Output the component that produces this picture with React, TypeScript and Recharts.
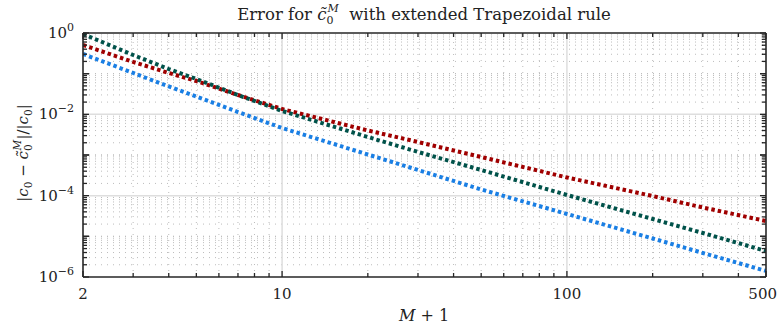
import React from 'react';
import { LineChart, Line, XAxis, YAxis, ReferenceLine } from 'recharts';

// M + 1 sample points
const mPlusOne = [2, 3, 4, 5, 7, 10, 20, 30, 50, 100, 200, 300, 500];

// relative error |c0 - c0~M| / |c0|
const errRed = [0.507, 0.194, 0.104, 0.066, 0.0299, 0.0135, 0.00401, 0.00209, 8.93e-4, 2.8e-4, 9.8e-5, 5.12e-5, 2.38e-5];
const errGreen = [0.945, 0.288, 0.13, 0.074, 0.0299, 0.0121, 0.00277, 0.00119, 4.28e-4, 1.04e-4, 2.67e-5, 1.21e-5, 4.36e-6];
const errBlue = [0.305, 0.104, 0.0484, 0.0275, 0.0114, 0.00461, 0.00103, 4.28e-4, 1.42e-4, 3.55e-5, 8.86e-6, 3.9e-6, 1.41e-6];

const xMajor = [2, 10, 100, 500];
const xMinor = [3, 4, 5, 6, 7, 8, 9, 20, 30, 40, 50, 60, 70, 80, 90, 200, 300, 400];
const yMajor = [1e-6, 1e-4, 1e-2, 1];
const yDecades = [1e-6, 1e-5, 1e-4, 1e-3, 1e-2, 1e-1];

const yMinor: number[] = [];
yDecades.forEach((d) => {
  for (let k = 1; k <= 9; k++) {
    const v = d * k;
    if (!yMajor.some((m) => Math.abs(m - v) / m < 1e-9)) yMinor.push(v);
  }
});

const data = mPlusOne.map((m, i) => ({ m, red: errRed[i], green: errGreen[i], blue: errBlue[i] }));

const AXIS = '#262626';
const FONT = "'DejaVu Serif', serif";
const isMajorY = (v: number) => yMajor.some((m) => Math.abs(m - v) / m < 1e-9);
const isMajorX = (v: number) => xMajor.includes(v);
const expOf = (v: number) => {
  const e = Math.round(Math.log10(v));
  return e < 0 ? '\u2212' + Math.abs(e) : String(e);
};

const BottomTick = (props: any) => {
  const { x, y, payload } = props;
  const major = isMajorX(payload.value);
  const last = payload.value === xMajor[xMajor.length - 1];
  return (
    <g>
      <line x1={x} y1={y} x2={x} y2={y - (major ? 6 : 4)} stroke={AXIS} strokeWidth={1.3} />
      {major && (
        <text x={last ? x + 11 : x} y={y + 22} textAnchor={last ? 'end' : 'middle'} style={{ fontFamily: FONT, fontSize: 15 }} fill="#222">
          {payload.value}
        </text>
      )}
    </g>
  );
};

const TopTick = (props: any) => {
  const { x, y, payload } = props;
  const major = isMajorX(payload.value);
  return <line x1={x} y1={y} x2={x} y2={y + (major ? 6 : 4)} stroke={AXIS} strokeWidth={1.3} />;
};

const LeftTick = (props: any) => {
  const { x, y, payload } = props;
  const v = payload.value;
  const major = isMajorY(v);
  const decade = Math.abs(Math.log10(v) - Math.round(Math.log10(v))) < 1e-9;
  return (
    <g>
      <line x1={x} y1={y} x2={x + (decade ? 6 : 4)} y2={y} stroke={AXIS} strokeWidth={1.3} />
      {major && (
        <text x={x - 9} y={y + 5} textAnchor="end" style={{ fontFamily: FONT, fontSize: 15 }} fill="#222">
          10
          <tspan dy={-7} style={{ fontSize: 11 }}>{expOf(v)}</tspan>
        </text>
      )}
    </g>
  );
};

const RightTick = (props: any) => {
  const { x, y, payload } = props;
  const v = payload.value;
  const decade = Math.abs(Math.log10(v) - Math.round(Math.log10(v))) < 1e-9;
  return <line x1={x} y1={y} x2={x - (decade ? 6 : 4)} y2={y} stroke={AXIS} strokeWidth={1.3} />;
};

const allXTicks = [...xMajor, ...xMinor].sort((a, b) => a - b);
const allYTicks = [...yMajor, ...yMinor, 1e-5, 1e-3, 1e-1].sort((a, b) => a - b);

export default function App() {
  return (
    <div style={{ position: 'absolute', left: 0, top: 0, width: 777, height: 327, background: '#fff' }}>
      <LineChart width={777} height={327} data={data} margin={{ top: 0, right: 0, bottom: 0, left: 0 }}>
        <XAxis
          xAxisId="b"
          dataKey="m"
          type="number"
          scale="log"
          domain={[2, 500]}
          allowDataOverflow
          ticks={allXTicks}
          interval={0}
          tickLine={false}
          tickSize={0}
          tickMargin={0}
          height={50}
          axisLine={{ stroke: AXIS, strokeWidth: 1.6 }}
          tick={<BottomTick />}
        />
        <XAxis
          xAxisId="t"
          orientation="top"
          dataKey="m"
          type="number"
          scale="log"
          domain={[2, 500]}
          allowDataOverflow
          ticks={allXTicks}
          interval={0}
          tickLine={false}
          tickSize={0}
          tickMargin={0}
          height={33}
          axisLine={{ stroke: AXIS, strokeWidth: 1.6 }}
          tick={<TopTick />}
        />
        <YAxis
          yAxisId="l"
          type="number"
          scale="log"
          domain={[1e-6, 1]}
          allowDataOverflow
          ticks={allYTicks}
          interval={0}
          tickLine={false}
          tickSize={0}
          tickMargin={0}
          width={83}
          axisLine={{ stroke: AXIS, strokeWidth: 1.6 }}
          tick={<LeftTick />}
        />
        <YAxis
          yAxisId="r"
          orientation="right"
          type="number"
          scale="log"
          domain={[1e-6, 1]}
          allowDataOverflow
          ticks={allYTicks}
          interval={0}
          tickLine={false}
          tickSize={0}
          tickMargin={0}
          width={11}
          axisLine={{ stroke: AXIS, strokeWidth: 1.6 }}
          tick={<RightTick />}
        />

        {yMinor.concat([1e-5, 1e-3, 1e-1]).map((v) => (
          <ReferenceLine key={'ym' + v} xAxisId="b" yAxisId="l" y={v} stroke="#bcbcbc" strokeDasharray="1 5" strokeWidth={1} />
        ))}
        {xMinor.map((v) => (
          <ReferenceLine key={'xm' + v} xAxisId="b" yAxisId="l" x={v} stroke="#bcbcbc" strokeDasharray="1 5" strokeWidth={1} />
        ))}
        {[1e-4, 1e-2].map((v) => (
          <ReferenceLine key={'yM' + v} xAxisId="b" yAxisId="l" y={v} stroke="#dedede" strokeWidth={1.5} />
        ))}
        {[10, 100].map((v) => (
          <ReferenceLine key={'xM' + v} xAxisId="b" yAxisId="l" x={v} stroke="#dedede" strokeWidth={1.5} />
        ))}

        <Line xAxisId="b" yAxisId="l" type="linear" dataKey="red" stroke="#a00000" strokeWidth={4} strokeDasharray="3.5 3" dot={false} isAnimationActive={false} />
        <Line xAxisId="b" yAxisId="l" type="linear" dataKey="green" stroke="#00524a" strokeWidth={4} strokeDasharray="3.5 3" dot={false} isAnimationActive={false} />
        <Line xAxisId="b" yAxisId="l" type="linear" dataKey="blue" stroke="#1a7fe4" strokeWidth={4} strokeDasharray="3.5 3" dot={false} isAnimationActive={false} />
      </LineChart>

      <svg width={777} height={327} style={{ position: 'absolute', left: 0, top: 0, pointerEvents: 'none', fontFamily: FONT }} fill="#222">
        <text x={424} y={20} textAnchor="middle" style={{ fontSize: 16.5 }}>
          Error for <tspan fontStyle="italic">{'c\u0303'}</tspan>
          <tspan dy={4} style={{ fontSize: 11 }}>0</tspan>
          <tspan dx={-6} dy={-12} style={{ fontSize: 11 }} fontStyle="italic">M</tspan>
          <tspan dy={8}>{'\u00a0 with extended Trapezoidal rule'}</tspan>
        </text>
        <text x={424} y={321} textAnchor="middle" style={{ fontSize: 16 }}>
          <tspan fontStyle="italic">M</tspan> + 1
        </text>
        <text transform="translate(28,153) rotate(-90)" textAnchor="middle" style={{ fontSize: 15 }}>
          |<tspan fontStyle="italic">c</tspan>
          <tspan dy={4} style={{ fontSize: 10.5 }}>0</tspan>
          <tspan dy={-4}>{' \u2212 '}</tspan>
          <tspan fontStyle="italic">{'c\u0303'}</tspan>
          <tspan dy={4} style={{ fontSize: 10.5 }}>0</tspan>
          <tspan dx={-6} dy={-11} style={{ fontSize: 10.5 }} fontStyle="italic">M</tspan>
          <tspan dy={7}>|/|</tspan>
          <tspan fontStyle="italic">c</tspan>
          <tspan dy={4} style={{ fontSize: 10.5 }}>0</tspan>
          <tspan dy={-4}>|</tspan>
        </text>
      </svg>
    </div>
  );
}
